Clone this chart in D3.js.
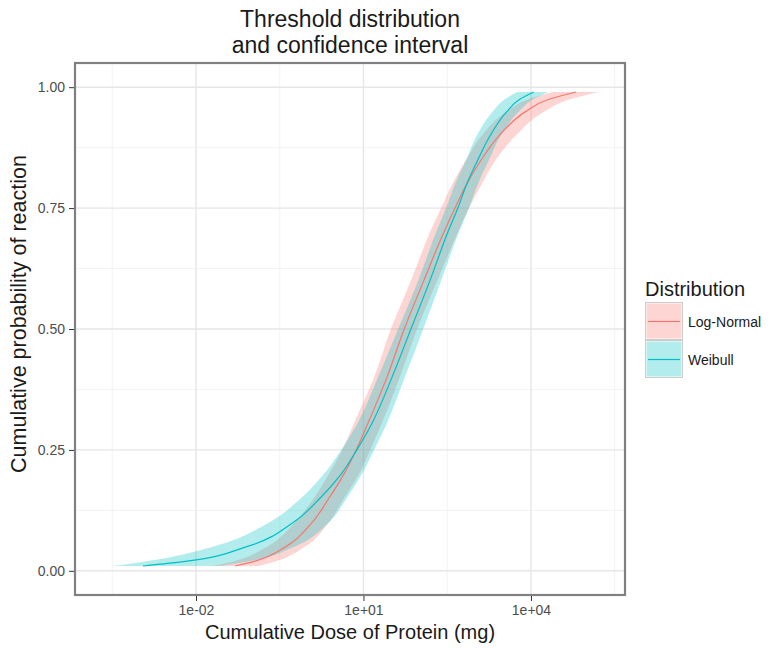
<!DOCTYPE html>
<html>
<head>
<meta charset="utf-8">
<script src="https://cdn.jsdelivr.net/npm/d3@7"></script>
<style>
  body { margin: 0; background: #fff; }
  svg text { font-family: "Liberation Sans", Arial, sans-serif; }
</style>
</head>
<body>
<div id="chart"></div>
<script>
// probability levels the curves were read at
var probs = [0.01, 0.02, 0.05, 0.10, 0.15, 0.20, 0.25, 0.30, 0.40, 0.50, 0.60, 0.70, 0.75, 0.80, 0.85, 0.90, 0.95, 0.975, 0.99];

// log10 of cumulative dose (mg)
var lnMid  = [-1.30, -0.94, -0.39, 0.08, 0.38, 0.65, 0.87, 1.06, 1.42, 1.73, 2.08, 2.44, 2.64, 2.85, 3.11, 3.43, 3.91, 4.32, 4.81];
var lnLow  = [-1.71, -1.32, -0.73, -0.23, 0.11, 0.38, 0.62, 0.81, 1.19, 1.49, 1.85, 2.19, 2.39, 2.59, 2.84, 3.12, 3.57, 3.95, 4.39];
var lnHigh = [-0.89, -0.57, -0.05, 0.38, 0.65, 0.92, 1.12, 1.31, 1.65, 1.96, 2.32, 2.69, 2.89, 3.12, 3.37, 3.73, 4.25, 4.70, 5.22];

var wbMid  = [-2.95, -2.16, -1.09, -0.26, 0.22, 0.60, 0.88, 1.13, 1.51, 1.85, 2.19, 2.51, 2.69, 2.85, 3.05, 3.27, 3.57, 3.80, 4.05];
var wbLow  = [-3.50, -2.88, -1.70, -0.69, -0.12, 0.29, 0.60, 0.87, 1.26, 1.62, 1.98, 2.30, 2.48, 2.64, 2.84, 3.03, 3.32, 3.53, 3.75];
var wbHigh = [-1.61, -1.05, -0.24, 0.38, 0.70, 0.97, 1.19, 1.40, 1.74, 2.07, 2.39, 2.71, 2.89, 3.05, 3.25, 3.46, 3.79, 4.04, 4.31];

var seriesNames = ["Log-Normal", "Weibull"];
var seriesColors = ["#F8766D", "#00BFC4"];

var xTicks = [1e-2, 1e1, 1e4];
var xTickLabels = ["1e-02", "1e+01", "1e+04"];
var xMinor = [Math.pow(10, -3.5), Math.pow(10, -0.5), Math.pow(10, 2.5), Math.pow(10, 5.5)];
var yTicks = [0, 0.25, 0.5, 0.75, 1];
var yMinor = [0.125, 0.375, 0.625, 0.875];

function build(mid, low, high) {
  return probs.map(function(p, i) {
    return {p: p, mid: Math.pow(10, mid[i]), lo: Math.pow(10, low[i]), hi: Math.pow(10, high[i])};
  });
}
var series = [
  {name: seriesNames[0], color: seriesColors[0], values: build(lnMid, lnLow, lnHigh)},
  {name: seriesNames[1], color: seriesColors[1], values: build(wbMid, wbLow, wbHigh)}
];

var W = 778, H = 648;
var panel = {left: 75, right: 625, top: 63, bottom: 595};

var svg = d3.select("#chart").append("svg")
  .attr("width", W)
  .attr("height", H);

var x = d3.scaleLog()
  .domain([Math.pow(10, -4.167), Math.pow(10, 5.684)])
  .range([panel.left, panel.right]);

var y = d3.scaleLinear()
  .domain([-0.05, 1.05])
  .range([panel.bottom, panel.top]);

//grid
var grid = svg.append("g");
grid.selectAll(".xminor").data(xMinor).enter().append("line")
  .attr("x1", function(d) {return x(d)}).attr("x2", function(d) {return x(d)})
  .attr("y1", panel.top).attr("y2", panel.bottom)
  .attr("stroke", "#f3f3f3").attr("stroke-width", 1);
grid.selectAll(".yminor").data(yMinor).enter().append("line")
  .attr("y1", function(d) {return y(d)}).attr("y2", function(d) {return y(d)})
  .attr("x1", panel.left).attr("x2", panel.right)
  .attr("stroke", "#f3f3f3").attr("stroke-width", 1);
grid.selectAll(".xmajor").data(xTicks).enter().append("line")
  .attr("x1", function(d) {return x(d)}).attr("x2", function(d) {return x(d)})
  .attr("y1", panel.top).attr("y2", panel.bottom)
  .attr("stroke", "#e6e6e6").attr("stroke-width", 1.4);
grid.selectAll(".ymajor").data(yTicks).enter().append("line")
  .attr("y1", function(d) {return y(d)}).attr("y2", function(d) {return y(d)})
  .attr("x1", panel.left).attr("x2", panel.right)
  .attr("stroke", "#e6e6e6").attr("stroke-width", 1.4);

//ribbons then lines
var band = d3.area()
  .y(function(d) {return y(d.p)})
  .x0(function(d) {return x(d.lo)})
  .x1(function(d) {return x(d.hi)})
  .curve(d3.curveMonotoneY);

var line = d3.line()
  .x(function(d) {return x(d.mid)})
  .y(function(d) {return y(d.p)})
  .curve(d3.curveMonotoneY);

svg.append("g").selectAll("path")
  .data(series)
  .enter().append("path")
    .attr("d", function(d) {return band(d.values)})
    .attr("fill", function(d) {return d.color})
    .attr("fill-opacity", 0.3);

svg.append("g").selectAll("path")
  .data(series)
  .enter().append("path")
    .attr("d", function(d) {return line(d.values)})
    .attr("fill", "none")
    .attr("stroke", function(d) {return d.color})
    .attr("stroke-width", 1.2);

//panel border
svg.append("rect")
  .attr("x", panel.left).attr("y", panel.top)
  .attr("width", panel.right - panel.left).attr("height", panel.bottom - panel.top)
  .attr("fill", "none").attr("stroke", "#808080").attr("stroke-width", 2.2);

//axes
var xAxis = svg.append("g")
  .attr("transform", "translate(0," + (panel.bottom + 1) + ")")
  .call(d3.axisBottom(x).tickValues(xTicks).tickFormat(function(d, i) {return xTickLabels[i]}).tickSize(5).tickPadding(4));
var yAxis = svg.append("g")
  .attr("transform", "translate(" + (panel.left - 1) + ",0)")
  .call(d3.axisLeft(y).tickValues(yTicks).tickFormat(d3.format(".2f")).tickSize(5).tickPadding(4));

[xAxis, yAxis].forEach(function(ax) {
  ax.select(".domain").remove();
  ax.selectAll(".tick line").attr("stroke", "#333333");
  ax.selectAll(".tick text")
    .attr("fill", "#4d4d4d")
    .style("font-size", "14px")
    .style("font-family", "'Liberation Sans', Arial, sans-serif");
});

//titles
var title = svg.append("text")
  .attr("text-anchor", "middle")
  .attr("fill", "#1a1a1a")
  .style("font-size", "23px");
title.append("tspan").attr("x", (panel.left + panel.right) / 2).attr("y", 27).text("Threshold distribution");
title.append("tspan").attr("x", (panel.left + panel.right) / 2).attr("y", 53).text("and confidence interval");

svg.append("text")
  .attr("x", (panel.left + panel.right) / 2).attr("y", 639)
  .attr("text-anchor", "middle")
  .attr("fill", "#1a1a1a")
  .style("font-size", "20px")
  .text("Cumulative Dose of Protein (mg)");

svg.append("text")
  .attr("transform", "translate(26,314) rotate(-90)")
  .attr("text-anchor", "middle")
  .attr("fill", "#1a1a1a")
  .style("font-size", "21.5px")
  .text("Cumulative probability of reaction");

//legend
var legend = svg.append("g").attr("transform", "translate(645,0)");
legend.append("text")
  .attr("x", 0).attr("y", 296)
  .attr("fill", "#1a1a1a")
  .style("font-size", "20px")
  .text("Distribution");

var keys = legend.selectAll(".key")
  .data(series)
  .enter().append("g")
    .attr("class", "key")
    .attr("transform", function(d, i) {return "translate(0," + (302 + i * 38) + ")"});

keys.append("rect")
  .attr("x", 0.5).attr("y", 0.5)
  .attr("width", 37).attr("height", 37)
  .attr("fill", "#fff")
  .attr("stroke", "#cccccc").attr("stroke-width", 1);
keys.append("rect")
  .attr("x", 1.5).attr("y", 1.5)
  .attr("width", 35).attr("height", 35)
  .attr("fill", function(d) {return d.color})
  .attr("fill-opacity", 0.3);
keys.append("line")
  .attr("x1", 3).attr("x2", 35)
  .attr("y1", 19.5).attr("y2", 19.5)
  .attr("stroke", function(d) {return d.color})
  .attr("stroke-width", 1.2);
keys.append("text")
  .attr("x", 43).attr("y", 24.5)
  .attr("fill", "#1a1a1a")
  .style("font-size", "14px")
  .text(function(d) {return d.name});
</script>
</body>
</html>
